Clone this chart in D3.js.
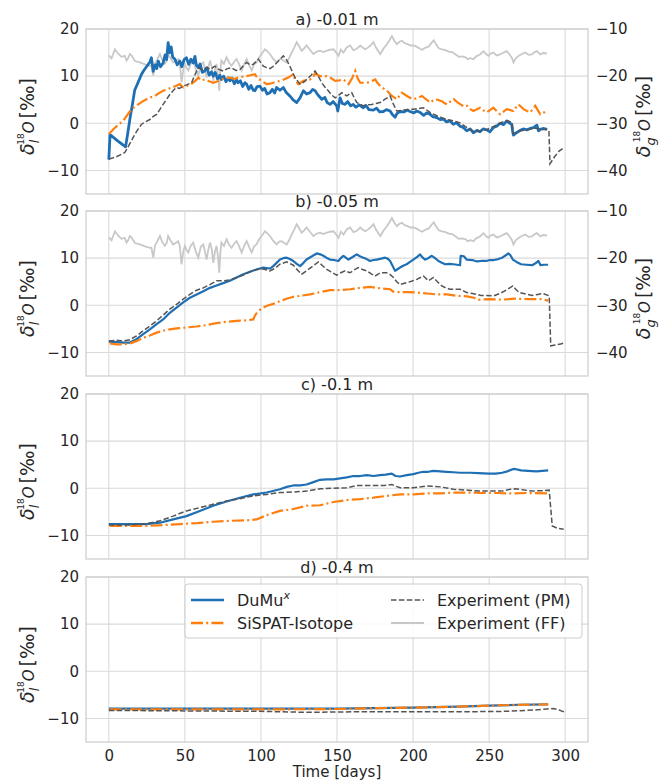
<!DOCTYPE html>
<html>
<head>
<meta charset="utf-8">
<script src="https://cdn.jsdelivr.net/npm/d3@7"></script>
<style>
  body { margin: 0; background: #fff; }
  text { font-family: 'DejaVu Sans', sans-serif; fill: #262626; }
</style>
</head>
<body>
<div id="graf"></div>
<script>
// datos: [dia, delta18O]
const aDumux = [[0,-7.7],[0.8,-2.4],[3,-3],[6,-3.8],[9,-4.5],[11,-5],[12.5,-2],[14,1.2],[15.5,4],[17,7],[19,8.5],[21.5,10.4],[23,11.2],[25,12.1],[27,13],[28,13.9],[29.2,11],[30.5,12.4],[31.5,11.6],[32.5,13.2],[34,12],[35.7,12.8],[37,14.5],[38,13.5],[39,17.1],[40,15],[41,16.2],[42,14],[43.4,13.6],[45,12.4],[46.7,13.2],[48,12],[49.5,13.5],[51,13.9],[52.5,12.5],[54,13.6],[55.5,12.8],[56.6,14.2],[57.5,12.4],[58.8,11.8],[60,12.6],[61.5,10.8],[63,11.1],[64.5,11.8],[66,10.2],[67.5,10.9],[68.7,10],[70,10.8],[71.5,9.4],[73,10.2],[74,9.3],[75.5,10],[77,8.8],[78.5,9.6],[79.6,9],[81,9.6],[82.5,8.4],[84,9.2],[85,8.6],[86.5,9],[88,7.8],[89.5,8.6],[90.6,8.3],[92,7.2],[93.5,8],[95,7],[96,6.9],[97.5,7.8],[99.3,7.9],[101,7],[102.5,7.4],[104,6.2],[105.9,6.5],[107.5,7.2],[109,6.4],[110.3,7.6],[112.5,7],[114.7,7.6],[116.5,6.6],[119,5.8],[121,5],[123.5,4.4],[125.7,5.4],[127.9,6.9],[130,6.2],[132.3,6.5],[134,7.2],[135.6,6.9],[137.5,6],[140,5.1],[142,5.5],[143.5,4.4],[145.4,4],[147.5,4.6],[149.8,3.7],[150.5,2.6],[152,5.4],[153.5,4.2],[155.3,4],[157,4.6],[159,3.7],[160.7,4],[162.5,3.4],[164.5,3.9],[167.3,3.3],[169,3.8],[171,2.9],[173.9,2.8],[176,3.2],[178,2.4],[180.5,2.5],[182.5,2.9],[184.9,2.6],[186.5,1.8],[188.2,1.3],[189.5,2.1],[191.4,2.5],[194,2.4],[196,2.8],[198,2.5],[200.5,2.2],[202.5,2.6],[204.6,2.3],[207,1.7],[209,2.2],[211.2,1.9],[213,1.4],[215.5,1.2],[217.8,0.8],[220,0.9],[222,0.3],[224.3,0.5],[226.5,-0.2],[228.5,0.1],[230.9,-0.6],[233,-0.9],[235.3,-1.6],[237.5,-1.2],[239.7,-2],[242,-1.5],[244,-1.8],[246,-1.2],[248.4,-1.4],[250.5,-1.8],[252.8,-0.9],[255,-0.6],[257.2,0],[259.5,-0.3],[261.6,0.5],[263,0.1],[264.9,-0.2],[265.5,-1.8],[266,-2.5],[268,-2],[270.4,-1.5],[272.5,-1.2],[274.8,-1.4],[277,-1.1],[279.2,-0.9],[281.4,-0.4],[282.5,-1.6],[283.6,-1.3],[286,-1.1],[288,-1.3]]
const aSispat = [[0,-2.3],[2.8,-1.3],[6,-0.4],[9.4,0.5],[13.8,2.5],[16,3.2],[19.3,4],[22,4.6],[24.8,5.1],[27.5,5.5],[30.3,5.8],[33,6.4],[35.7,6.9],[38.5,7.2],[41.2,7.6],[44,7.9],[46.7,8.3],[49,7.6],[51,7.9],[53.5,8.2],[55.5,8.6],[57.5,9.2],[58.8,9.7],[61,9.1],[63,9.3],[66,8.9],[68.7,8.6],[71.5,8.9],[74,9.3],[77,9.6],[79.6,9.7],[82.5,9.4],[85,9.7],[88,9.9],[90.6,10],[93,10.2],[96,10.4],[98,9.5],[100.5,9],[103.7,8.3],[106,8.4],[108.1,8.6],[112.5,9],[115,9.3],[118,9.7],[121.3,10.4],[122.5,9.2],[124.6,8.3],[127.9,9],[130,9.1],[132.3,9.3],[134.5,9.8],[135.6,10.7],[137,10.3],[138.9,10],[141,9.9],[143.3,10],[146,9.6],[148.8,9],[151.5,9.1],[154.3,9.3],[156,8.8],[157.6,8.3],[160,9.6],[162,11.1],[163.5,9.6],[165.3,8.6],[167.5,8.6],[169.7,8.6],[172.5,8.9],[175.2,9.3],[176.5,8.6],[178.5,7.9],[180.5,7.4],[182.9,6.9],[184.5,6.3],[186.1,5.8],[188,5.4],[189.4,5.1],[191,5.8],[192.7,6.5],[194.5,6.1],[196,5.8],[198,5.4],[200.4,5.1],[203,5.4],[205.9,5.8],[208.5,5.1],[211.4,4.4],[213,4.8],[214.7,5.1],[217,4.9],[219,4.7],[220.5,4.3],[222.4,4],[224.5,4.6],[226.8,5.1],[229,4.5],[231.2,4],[234,3.5],[235.5,3.7],[237.7,3],[239.7,2.6],[242,3],[244,3.3],[246,2.8],[248.4,2.3],[250.5,2.8],[252.8,3.3],[255,2.6],[257.2,1.9],[259.5,2.5],[261.6,3],[264,2.8],[266,2.6],[267.5,3.3],[269.3,4],[271,3.5],[272.6,3],[275,2.6],[277,2.3],[278.8,3],[280.3,3.7],[282,2.8],[283.6,1.9],[286,2.3],[288,2.6]]
const aPm = [[0,-7.6],[5,-7.1],[10.5,-6.2],[13,-4.8],[16,-3],[18.5,-1.6],[21.5,-0.2],[24,0.3],[27,0.8],[29,1.4],[31.4,1.9],[33.5,2.9],[35.7,4],[38,5.1],[40.1,6.1],[42.5,7],[44.5,7.6],[46.5,7.4],[48.9,7.9],[51.5,8.2],[54.4,8.6],[56.5,10.2],[58.8,11.8],[61.5,11.3],[64.3,11.8],[67,11.5],[69.7,12.1],[72.5,11.4],[75.2,11.1],[78,11.6],[80.7,11.8],[83.5,11.2],[86.2,11.4],[88.5,12.2],[90.6,12.9],[93,12.4],[95,12.5],[98.3,13.6],[101.6,12.1],[103.7,11.8],[106,11.6],[108.1,12.1],[111.5,13.2],[114.7,14.3],[117,13.4],[119,12.1],[122.4,9.7],[125.7,8.3],[128,8.7],[130,9.3],[133,10.2],[135.6,11.1],[138,9.8],[140,8.6],[142,7.7],[144.3,6.9],[146.5,6],[148.8,5.4],[151,5.9],[153.2,6.5],[156.4,5.8],[159.7,6.5],[161.5,5.3],[163,4.4],[167.3,3.7],[170,3.9],[172.8,4],[175.5,4.2],[178.3,4.4],[181.6,5.1],[184.9,5.8],[187,4.1],[189.3,2.6],[193.7,2.8],[197,2.9],[200.3,3],[203.5,3.1],[206.8,3.3],[211.2,2.3],[215.6,1.6],[218.8,1.2],[222.2,0.8],[226.5,0.5],[230.9,0.1],[234,-0.6],[237.5,-1.3],[240,-1.8],[244,-1.6],[248,-1.4],[252.8,-0.7],[257,0],[261.6,0.6],[264.9,0.2],[266,-2.2],[270.4,-1.6],[274.8,-1.4],[280,-1],[283.6,-1.3],[288,-1.3],[289.3,-1.5],[290,-8.6],[293,-7.1],[296,-5.9],[299,-5.2]]

// Experiment (FF), eje derecho (delta_g)
const ffGas = [[0,-15.6],[1.8,-16.2],[4,-14.3],[6.1,-15.2],[8.3,-15.9],[10.5,-15.7],[11.6,-16.7],[12.7,-16.2],[13.8,-15.3],[14.9,-15.6],[17.1,-16.8],[20.4,-17.1],[23.7,-17.5],[27,-17.8],[28,-17.8],[29.2,-19.9],[30.5,-17.2],[31.4,-16.7],[33.6,-15.3],[35,-16.5],[36.8,-17.4],[38,-16.8],[39,-15.3],[40.5,-16.2],[42.3,-17.1],[44,-16.8],[45.6,-16.4],[46.7,-17.5],[47.8,-21.3],[49,-18.5],[50,-17.4],[51,-18.2],[52.2,-18.8],[53.8,-17.4],[55.5,-16.7],[57,-18.4],[58.8,-19.9],[60.5,-17.6],[62.1,-17.1],[63.2,-18.6],[64.3,-20.3],[65.4,-18.2],[66.5,-16.7],[67.6,-18],[68.7,-21],[69.8,-18.5],[70.8,-17.4],[71.7,-19.5],[72.6,-23.1],[73.3,-19],[74,-16.7],[75.7,-17.4],[77.4,-16],[79,-17.1],[80.7,-17.8],[82.3,-17],[84,-16.4],[85.7,-17.5],[87.3,-18.8],[89,-17.4],[90.6,-16.4],[92.2,-17.6],[93.9,-18.8],[95.5,-17.5],[97.1,-17.1],[98.8,-16],[100.5,-15.3],[102.6,-14.3],[103.8,-14.6],[105.9,-15.3],[108,-16.3],[110.3,-17.1],[112,-16.5],[113.6,-16.4],[115.3,-16.8],[116.9,-17.1],[118.5,-16.2],[120.2,-15],[121.8,-14],[123.5,-12.8],[125,-13.6],[126.8,-14.6],[128.4,-14.1],[130,-13.5],[132.2,-14.4],[134.5,-15.3],[136.7,-14.8],[138.9,-14.6],[141,-14.9],[143.3,-14.6],[145.5,-14.4],[147.7,-14.3],[149.5,-15],[151,-15.7],[152.5,-14.4],[154.3,-15],[156.4,-13.9],[158.6,-13.5],[160.8,-14.5],[163,-14.2],[165.3,-13.5],[167,-14],[168.6,-14.3],[170.5,-13.9],[172,-13.5],[174,-12.8],[175.7,-14],[177.4,-14.8],[178.5,-15.3],[180.5,-14.2],[182.9,-13.2],[184.5,-12.4],[186.1,-11.5],[187.7,-12.5],[189.4,-13.2],[191,-12.7],[192.7,-12.5],[194.5,-13],[196.5,-13.2],[198.2,-13.5],[200.4,-13.5],[202.6,-13.8],[204.5,-14.2],[206,-14.4],[208,-14],[210.3,-13.7],[212,-13],[213.6,-12.4],[215,-13.2],[216.9,-14.1],[219,-14.3],[221.3,-14.5],[223.5,-14.8],[225.7,-14.9],[228,-15.4],[230.1,-15.9],[232.3,-15.8],[234.5,-16],[236,-16.4],[237.8,-16.2],[239.7,-16.4],[241.5,-15.8],[244,-15.4],[246.3,-14.7],[248,-15.3],[249.5,-15.7],[251,-15.2],[252.8,-15],[255,-15.6],[257.2,-15.4],[259.5,-15],[261.6,-14.7],[263.2,-15.3],[264.9,-16.1],[266,-17.1],[267.5,-16.2],[269.3,-15.7],[271.5,-15.3],[273.7,-15],[276,-15.5],[278.1,-15.4],[280,-14.9],[281.4,-14.7],[283.6,-15.4],[285.5,-15.1],[288,-15.2]]

const bDumux = [[0,-7.7],[5,-7.8],[9.4,-7.9],[13.8,-7.9],[18.2,-7.2],[22.6,-6.1],[27,-5.1],[31.4,-4],[35.7,-3],[40.1,-1.6],[44.5,-0.5],[48.9,0.6],[53.3,1.6],[57.7,2.3],[62.1,3],[66.5,3.7],[70.8,4.2],[75.2,4.7],[79.6,5.2],[84,5.9],[88.4,6.6],[92.8,7.1],[97.1,7.6],[101.5,8],[103.7,7.9],[106,7.8],[108.1,8.3],[110.3,9],[112.5,9.7],[114.7,10],[116.9,10.1],[119,9.8],[121.3,9.4],[123.5,8.8],[125.7,8.3],[128,9],[130,9.7],[133,10.3],[136.7,11],[139,10.8],[141,10.5],[143,10.1],[145.4,9.7],[148,9.6],[150.9,9.4],[152.5,10],[154.2,10.5],[155.8,10.1],[157.5,9.7],[160,10.2],[163,10.8],[165,10.4],[167.3,10.1],[169.5,9.8],[171.7,9.4],[174,9.6],[176.1,9.7],[179,9.9],[181.6,10.1],[183.3,9.9],[184.9,9.4],[186.5,8.4],[188.2,7.3],[190,7.7],[191.4,8],[193.5,8.4],[195.8,8.7],[198,9.2],[200.2,9.7],[202.5,10.2],[204.6,10.8],[206,10.2],[207.9,9.7],[210,10],[212.3,10.5],[214.5,10],[216.7,9.4],[219,9],[221.1,8.7],[224,8.8],[226.5,8.7],[229,8.6],[230.9,8.5],[231.3,10.5],[233.4,10.4],[235.2,9.7],[238.9,9.6],[242,9.3],[244.6,9.4],[248,9.4],[250.5,9.6],[253,9.6],[256,9.8],[258.6,10.1],[260.5,10.5],[262.8,11],[264,10.6],[265.6,9.7],[268,9.2],[271,8.7],[274.5,8.6],[278.3,8.5],[280.5,8.9],[282.4,9.4],[283.8,8.5],[286,8.6],[288.8,8.6]]
const bSispat = [[0.6,-8.1],[5,-8.3],[9.4,-8.3],[13.8,-8.1],[18.2,-7.6],[22.6,-6.9],[27,-6.4],[31.4,-5.8],[38,-5.2],[44.5,-4.9],[51,-4.7],[57.7,-4.5],[64.3,-4.2],[70.8,-3.8],[77.4,-3.5],[84,-3.3],[90.6,-3.2],[95,-3],[96,-2.2],[97.5,-1.5],[99.3,-1],[102.6,-0.3],[105,0],[108.1,0.3],[112.5,0.9],[116.9,1.4],[121.3,1.8],[125.7,2],[132.3,2.3],[138.9,2.8],[145.4,3.2],[152,3.2],[158.6,3.4],[165.3,3.7],[171.9,3.9],[178.5,3.6],[185,3.4],[187,2.9],[189.4,2.8],[196,2.8],[202.6,2.7],[209.2,2.5],[215.8,2.3],[222.4,2.3],[229,2],[235.5,1.9],[240,1.6],[243,1.2],[250,1.3],[258.6,1.2],[267,1.4],[275.6,1.3],[284,1.3],[288.8,1]]
const bPm = [[0,-7.6],[5,-7.4],[9.4,-7.6],[13.8,-7.3],[18.2,-6.5],[22.6,-5.4],[27,-4.4],[31.4,-3.3],[35.7,-2.1],[40.1,-0.8],[44.5,0.2],[48.9,1.3],[53.3,2.3],[57.7,3.2],[62.1,3.7],[66.5,4.4],[70.8,5.2],[75.2,5.2],[79.6,5.4],[84,5.9],[88.4,6.4],[92.8,7.1],[97.1,7.6],[101.5,7.7],[105.9,7.3],[109,7.8],[112.5,8.7],[116.9,9.2],[121.3,8.5],[124,7.5],[126.8,6.6],[129,7.1],[131.2,7.6],[134.5,8.4],[137.8,9.2],[140.5,8.4],[143.3,7.6],[146.5,7],[149.8,6.4],[152.5,6.9],[155.3,7.3],[158.6,6.9],[161.3,7.5],[164,8],[166.8,7.6],[169.6,7.3],[172.3,6.7],[175,6.2],[178.3,6.9],[182.7,6.9],[185,6.5],[187.1,5.9],[189.3,5],[191.4,4.4],[195.8,4.8],[199,5.1],[202.4,5.5],[206.8,6.2],[210.1,5.2],[213.4,5.9],[216,5],[218.9,4.1],[221.5,3.7],[224.3,3.4],[230.9,3.4],[235.3,2.7],[239,2.5],[244.6,2.1],[253,2],[257,2.5],[260,3],[263,3.6],[265.6,4.1],[267.5,3.4],[269.8,2.7],[274,2.4],[278.3,2.1],[282,2.3],[285.3,2.5],[289.5,2],[290.5,-8.6],[294,-8.4],[297,-8.2],[299.3,-8]]

const cDumux = [[0,-7.6],[13.8,-7.6],[24.8,-7.6],[33.6,-7.3],[42.3,-6.6],[51,-5.9],[59.8,-4.8],[68.6,-3.7],[77.4,-2.8],[86.2,-2],[95,-1.3],[103.7,-0.9],[112.5,-0.2],[117,0.3],[121.3,0.6],[125.7,0.6],[130,0.8],[134.5,1.3],[138.9,1.8],[143,1.9],[147.7,1.9],[152,2.1],[156.4,2.3],[160.8,2.6],[165.2,2.6],[169.6,2.8],[174,2.6],[178.3,2.8],[182,2.9],[186,3.1],[188.5,2.6],[191.4,2.5],[195.8,2.8],[200.2,3],[203.5,3.3],[206.8,3.5],[210,3.5],[213.4,3.7],[217.8,3.6],[222.1,3.5],[226.5,3.4],[230.9,3.3],[237.5,3.3],[243,3.2],[250,3.1],[254.5,3.1],[258.6,3.3],[262,3.6],[265,4],[267,4.1],[271,3.8],[275.6,3.7],[281,3.6],[285,3.7],[288.8,3.8]]
const cSispat = [[0.6,-8],[13.8,-8],[24.8,-8],[35.7,-7.8],[46.7,-7.6],[57.7,-7.4],[68.6,-7.1],[79.6,-6.9],[90.6,-6.8],[97.1,-6.6],[103.7,-5.7],[112.5,-4.8],[121.3,-4.4],[130,-3.7],[138.9,-3.6],[147.7,-2.9],[156.4,-2.5],[165.2,-2.3],[174,-2],[182.7,-1.6],[191.4,-1.3],[200.2,-1.3],[209,-1.1],[217.8,-1.1],[226.5,-0.9],[236.4,-0.9],[245,-1],[255,-1],[265,-1.1],[275,-1],[288.8,-1.1]]
const cPm = [[0,-7.8],[13.8,-7.8],[24.8,-7.5],[33.6,-6.9],[42.3,-5.9],[51,-4.8],[59.8,-4.1],[68.6,-3.4],[77.4,-2.7],[86.2,-2.2],[95,-1.6],[103.7,-1.3],[112.5,-0.9],[121.3,-0.8],[130,-0.6],[138.9,-0.1],[147.7,0],[156.4,0.1],[163,0.6],[174,0.6],[181,0.6],[186,0.8],[189,0.4],[191.4,0.1],[200.2,0.1],[209,0.5],[217.8,0.3],[226.5,-0.2],[236.4,-0.4],[243,-0.6],[250,-0.6],[258,-0.6],[264,-0.2],[267,-0.1],[272,-0.3],[278,-0.6],[285,-0.5],[289.5,-0.4],[291.5,-8],[295,-8.5],[299,-8.7]]

const dDumux = [[0,-7.9],[50,-7.9],[100,-7.9],[150,-7.9],[200,-7.7],[230,-7.5],[250,-7.3],[270,-7.1],[288.8,-7]]
const dSispat = [[0.6,-8.1],[50,-8.1],[100,-8.1],[150,-8],[180,-7.8],[200,-7.7],[230,-7.5],[260,-7.2],[288.8,-7]]
const dPm = [[0,-8.3],[50,-8.4],[100,-8.5],[130,-8.7],[160,-8.6],[200,-8.6],[230,-8.6],[260,-8.5],[280,-8.2],[288,-8],[292,-7.9],[296,-8.2],[300,-8.7]]

const titulos = ['a) -0.01 m', 'b) -0.05 m', 'c) -0.1 m', 'd) -0.4 m']
const xTicks = [0, 50, 100, 150, 200, 250, 300]
const yTicks = [-10, 0, 10, 20]
const yTicksDer = [-40, -30, -20, -10]

const anchoTotal = 665
const altoTotal = 783
const margin = { left: 86, right: 77 }
const ancho = anchoTotal - margin.left - margin.right
const altoPanel = 165
const topes = [29, 211, 394, 577]

const colorDumux = '#1f6fb4'
const colorSispat = '#ff7f0e'
const colorPm = '#555555'
const colorFf = '#c8c8c8'

const svg = d3.select('#graf')
  .append('svg')
  .attr('width', anchoTotal)
  .attr('height', altoTotal)

const x = d3.scaleLinear().domain([-15, 315]).range([0, ancho])
const y = d3.scaleLinear().domain([-15, 20]).range([altoPanel, 0])
const yDer = d3.scaleLinear().domain([-45, -10]).range([altoPanel, 0])

const linea = d3.line().x(d => x(d[0])).y(d => y(d[1]))
const lineaDer = d3.line().x(d => x(d[0])).y(d => yDer(d[1]))

const paneles = [
  { dumux: aDumux, sispat: aSispat, pm: aPm, ff: true, anchoDumux: 2.8 },
  { dumux: bDumux, sispat: bSispat, pm: bPm, ff: true, anchoDumux: 2.2 },
  { dumux: cDumux, sispat: cSispat, pm: cPm, ff: false, anchoDumux: 2.2 },
  { dumux: dDumux, sispat: dSispat, pm: dPm, ff: false, anchoDumux: 2.2 },
]

svg.append('defs').append('clipPath').attr('id', 'recorte')
  .append('rect').attr('width', ancho).attr('height', altoPanel)

function etiquetaY(px, py, sub) {
  const t = svg.append('text')
    .attr('transform', `translate(${px}, ${py}) rotate(-90)`)
    .attr('text-anchor', 'middle')
    .style('font-size', '19px')
  t.append('tspan').text('δ').style('font-style', 'italic')
  t.append('tspan').text(sub).style('font-style', 'italic').style('font-size', '13px').attr('dy', 5)
  t.append('tspan').text('18').style('font-size', '9px').attr('dy', -15).attr('dx', -5)
  t.append('tspan').text('O').style('font-style', 'italic').style('font-size', '15px').attr('dy', 10)
  t.append('tspan').text('[‰]').attr('dx', 3)
}

const estiloTick = sel => sel.selectAll('text')
  .style('font-size', '15px')
  .style('font-family', 'DejaVu Sans, sans-serif')
  .attr('fill', '#262626')

paneles.forEach((p, i) => {
  const g = svg.append('g')
    .attr('transform', `translate(${margin.left}, ${topes[i]})`)

  // rejilla
  g.append('g').selectAll('line').data(xTicks).join('line')
    .attr('x1', d => x(d)).attr('x2', d => x(d))
    .attr('y1', 0).attr('y2', altoPanel)
    .attr('stroke', '#dadada').attr('stroke-width', 1.1)
  g.append('g').selectAll('line').data(yTicks).join('line')
    .attr('x1', 0).attr('x2', ancho)
    .attr('y1', d => y(d)).attr('y2', d => y(d))
    .attr('stroke', '#dadada').attr('stroke-width', 1.1)

  // eje izquierdo
  const ejeY = g.append('g')
    .call(d3.axisLeft(y).tickValues(yTicks).tickSize(0).tickPadding(7))
  ejeY.select('.domain').remove()
  estiloTick(ejeY)

  if (p.ff) {
    const ejeD = g.append('g')
      .attr('transform', `translate(${ancho}, 0)`)
      .call(d3.axisRight(yDer).tickValues(yTicksDer).tickSize(0).tickPadding(8))
    ejeD.select('.domain').remove()
    estiloTick(ejeD)
  }

  const lineas = g.append('g').attr('clip-path', 'url(#recorte)')
  if (p.ff) {
    lineas.append('path').datum(ffGas).attr('d', lineaDer)
      .attr('fill', 'none').attr('stroke', colorFf).attr('stroke-width', 1.8)
  }
  lineas.append('path').datum(p.dumux).attr('d', linea)
    .attr('fill', 'none').attr('stroke', colorDumux).attr('stroke-width', p.anchoDumux)
    .attr('stroke-linejoin', 'round')
  lineas.append('path').datum(p.sispat).attr('d', linea)
    .attr('fill', 'none').attr('stroke', colorSispat).attr('stroke-width', 2.2)
    .attr('stroke-dasharray', '12,3.2,2,3.2')
  lineas.append('path').datum(p.pm).attr('d', linea)
    .attr('fill', 'none').attr('stroke', colorPm).attr('stroke-width', 1.5)
    .attr('stroke-dasharray', '5.5,2.4')

  // marco
  g.append('rect')
    .attr('width', ancho).attr('height', altoPanel)
    .attr('fill', 'none').attr('stroke', '#cccccc').attr('stroke-width', 1.2)

  // titulo
  g.append('text')
    .attr('x', ancho / 2).attr('y', -4)
    .attr('text-anchor', 'middle')
    .style('font-size', '16px')
    .text(titulos[i])

  etiquetaY(34, topes[i] + altoPanel / 2 + 5, 'l')
  if (p.ff) etiquetaY(650, topes[i] + altoPanel / 2 + 5, 'g')

  if (i === 3) {
    const ejeX = g.append('g')
      .attr('transform', `translate(0, ${altoPanel})`)
      .call(d3.axisBottom(x).tickValues(xTicks).tickSize(0).tickPadding(8))
    ejeX.select('.domain').remove()
    estiloTick(ejeX)
    g.append('text')
      .attr('x', ancho / 2).attr('y', altoPanel + 35)
      .attr('text-anchor', 'middle')
      .style('font-size', '15px')
      .text('Time [days]')
  }
})

// leyenda
const items = [
  { nombre: 'DuMu', sup: 'x', color: colorDumux, dash: null, w: 2.4, col: 0, fila: 0 },
  { nombre: 'SiSPAT-Isotope', color: colorSispat, dash: '12,3.2,2,3.2', w: 2.4, col: 0, fila: 1 },
  { nombre: 'Experiment (PM)', color: colorPm, dash: '5.5,2.4', w: 1.5, col: 1, fila: 0 },
  { nombre: 'Experiment (FF)', color: colorFf, dash: null, w: 2, col: 1, fila: 1 },
]
const leyenda = svg.append('g').attr('transform', 'translate(185, 584)')
leyenda.append('rect')
  .attr('width', 397).attr('height', 54).attr('rx', 3)
  .attr('fill', '#fff').attr('fill-opacity', 0.85)
  .attr('stroke', '#cccccc')
const cols = [6, 206]
items.forEach(it => {
  const ly = 16 + it.fila * 23
  const lx = cols[it.col]
  leyenda.append('line')
    .attr('x1', lx).attr('x2', lx + 33).attr('y1', ly).attr('y2', ly)
    .attr('stroke', it.color).attr('stroke-width', it.w)
    .attr('stroke-dasharray', it.dash)
  const t = leyenda.append('text')
    .attr('x', lx + 46).attr('y', ly + 6)
    .style('font-size', '16px')
    .text(it.nombre)
  if (it.sup) t.append('tspan').text(it.sup).style('font-size', '11px').style('font-style', 'italic').attr('dy', -7)
})
</script>
</body>
</html>
